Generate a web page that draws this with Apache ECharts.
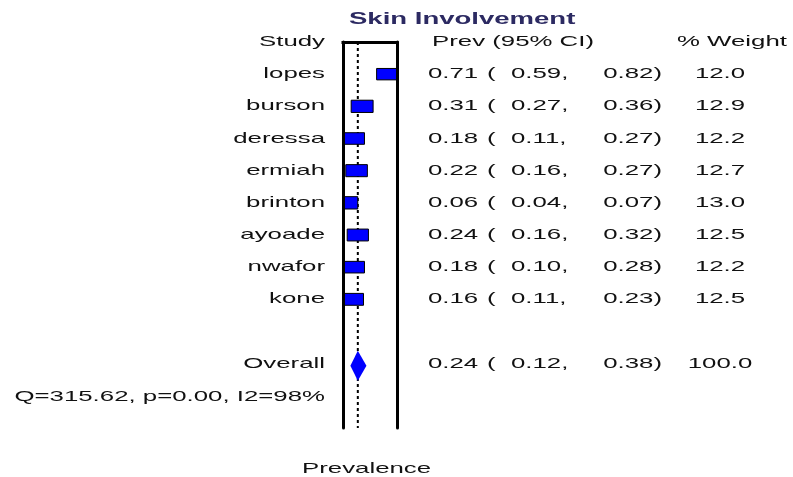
<!DOCTYPE html>
<html>
<head>
<meta charset="utf-8">
<script src="https://cdn.jsdelivr.net/npm/echarts@6/dist/echarts.min.js"></script>
<style>
  html, body { margin: 0; padding: 0; background: #fff; }
  #chart { width: 793px; height: 477px; }
</style>
</head>
<body>
<div id="chart"></div>
<script>
// Study-level prevalence estimates (skin involvement)
const studies  = ['lopes', 'burson', 'deressa', 'ermiah', 'brinton', 'ayoade', 'nwafor', 'kone'];
const prev     = [0.71, 0.31, 0.18, 0.22, 0.06, 0.24, 0.18, 0.16];
const lower    = [0.59, 0.27, 0.11, 0.16, 0.04, 0.16, 0.10, 0.11];
const upper    = [0.82, 0.36, 0.27, 0.27, 0.07, 0.32, 0.28, 0.23];
const weights  = [12.0, 12.9, 12.2, 12.7, 13.0, 12.5, 12.2, 12.5];

// Pooled estimate
const overallLabel  = 'Overall';
const overallPrev   = 0.24;
const overallLower  = 0.12;
const overallUpper  = 0.38;
const overallWeight = 100.0;
const heterogeneity = 'Q=315.62, p=0.00, I2=98%';

// Titles and column headers
const titleText   = 'Skin Involvement';
const headStudy   = 'Study';
const headPrev    = 'Prev (95% CI)';
const headWeight  = '% Weight';
const axisName    = 'Prevalence';

// Row layout: header on row 0, studies on rows 1..8, pooled on row 10
const overallRow = 10;
const hetRow = 11;

const FONT = '"Liberation Sans", Arial, sans-serif';
const FS = 15;
const SX = 1.72;          // horizontal stretch of all text
const INK = '#111';

function txt(x, y, text, align, extra) {
  return Object.assign({
    type: 'text',
    x: x, y: y,
    scaleX: SX,
    silent: true,
    style: {
      text: text, x: 0, y: 0,
      textAlign: align || 'left',
      textVerticalAlign: 'middle',
      font: FS + 'px ' + FONT,
      fill: INK
    }
  }, extra || {});
}

function rowTexts(y, label, est, lo, hi, w) {
  return [
    txt(325, y, label, 'right'),
    txt(428, y, est.toFixed(2), 'left'),
    txt(487, y, '(', 'left'),
    txt(511, y, lo.toFixed(2) + ',', 'left'),
    txt(662, y, hi.toFixed(2) + ')', 'right'),
    txt(720, y, w.toFixed(1), 'center')
  ];
}

const chart = echarts.init(document.getElementById('chart'), null, { renderer: 'canvas' });

const option = {
  animation: false,
  backgroundColor: '#fff',
  grid: { left: 343, width: 54, top: 42, height: 386, containLabel: false },
  xAxis: {
    type: 'value', min: 0, max: 0.875,
    axisLine: { show: true, lineStyle: { color: '#000', width: 3, cap: 'square' } },
    axisTick: { show: false }, axisLabel: { show: false }, splitLine: { show: false },
    z: 5
  },
  yAxis: [
    {
      type: 'value', min: 0, max: 12, inverse: true, position: 'left',
      axisLine: { show: true, lineStyle: { color: '#000', width: 3 } },
      axisTick: { show: false }, axisLabel: { show: false }, splitLine: { show: false },
      z: 5
    },
    {
      type: 'value', min: 0, max: 12, inverse: true, position: 'right',
      axisLine: { show: true, lineStyle: { color: '#000', width: 3 } },
      axisTick: { show: false }, axisLabel: { show: false }, splitLine: { show: false },
      z: 5
    }
  ],
  graphic: [
    {
      type: 'text', left: 349, top: 12, scaleX: SX, silent: true,
      style: { text: titleText, font: 'bold 16px ' + FONT, fill: '#2c2a62' }
    },
    txt(325, 42, headStudy, 'right'),
    txt(432, 42, headPrev, 'left'),
    txt(677, 42, headWeight, 'left'),
    txt(302, 469, axisName, 'left')
  ],
  series: [
    // reference line at the pooled estimate
    {
      type: 'line',
      data: [[overallPrev, 0], [overallPrev, 12]],
      symbol: 'none',
      lineStyle: { color: '#000', width: 2, type: [3, 3] },
      z: 1,
      silent: true
    },
    // study boxes and CI whiskers
    {
      type: 'custom',
      clip: true,
      z: 2,
      data: studies.map((s, i) => [prev[i], i + 1, lower[i], upper[i], weights[i]]),
      renderItem: function (params, api) {
        const c = api.coord([api.value(0), api.value(1)]);
        const l = api.coord([api.value(2), api.value(1)]);
        const u = api.coord([api.value(3), api.value(1)]);
        const w = api.value(4);
        const bw = w * 1.7, bh = w * 0.95;
        return {
          type: 'group',
          children: [
            { type: 'line', shape: { x1: l[0], y1: c[1], x2: u[0], y2: c[1] },
              style: { stroke: '#000', lineWidth: 1 } },
            { type: 'rect',
              shape: { x: c[0] - bw / 2, y: c[1] - bh / 2, width: bw, height: bh },
              style: { fill: '#0000ff', stroke: '#000', lineWidth: 1 } }
          ]
        };
      }
    },
    // pooled diamond
    {
      type: 'custom',
      clip: true,
      z: 2,
      data: [[overallPrev, overallRow, overallLower, overallUpper]],
      renderItem: function (params, api) {
        const c = api.coord([api.value(0), api.value(1)]);
        const l = api.coord([api.value(2), api.value(1)]);
        const u = api.coord([api.value(3), api.value(1)]);
        const h = 15;
        const y = c[1] + 2;
        return {
          type: 'polygon',
          shape: { points: [[l[0], y], [c[0], y - h], [u[0], y], [c[0], y + h]] },
          style: { fill: '#0000ff' }
        };
      }
    },
    // study text columns
    {
      type: 'custom',
      clip: false,
      z: 3,
      data: studies.map((s, i) => [prev[i], i + 1]),
      renderItem: function (params, api) {
        const i = params.dataIndex;
        const y = api.coord([0, api.value(1)])[1];
        return { type: 'group', children: rowTexts(y, studies[i], prev[i], lower[i], upper[i], weights[i]) };
      }
    },
    // pooled text and heterogeneity line
    {
      type: 'custom',
      clip: false,
      z: 3,
      data: [[overallPrev, overallRow]],
      renderItem: function (params, api) {
        const y = api.coord([0, overallRow])[1];
        const yh = api.coord([0, hetRow])[1];
        const kids = rowTexts(y, overallLabel, overallPrev, overallLower, overallUpper, overallWeight);
        kids.push(txt(325, yh + 1, heterogeneity, 'right'));
        return { type: 'group', children: kids };
      }
    }
  ]
};

chart.setOption(option);
</script>
</body>
</html>
